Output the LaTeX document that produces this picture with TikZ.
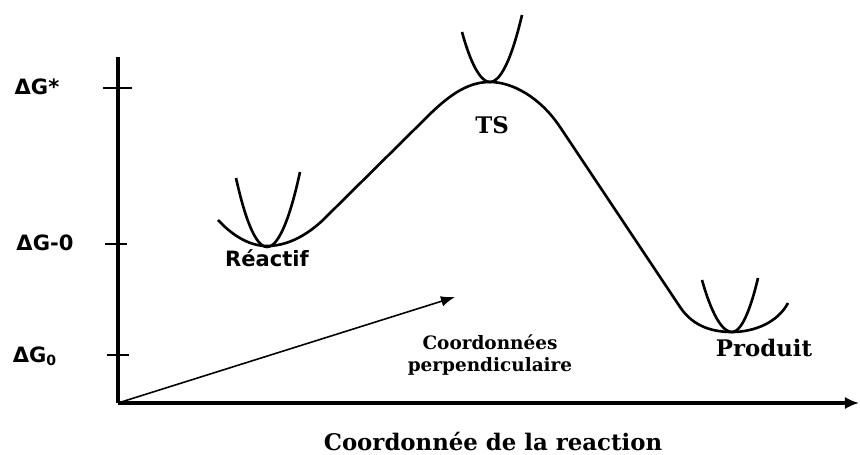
\documentclass[tikz,border=0pt]{standalone}
\usepackage{fontspec}
\newfontfamily\sanslabel{DejaVu Sans}
\newfontfamily\seriflabel{DejaVu Serif}
\usepackage{tikz}
\usetikzlibrary{arrows.meta}

\begin{document}
\begin{tikzpicture}[
x=0.02cm, y=0.02cm,
axis/.style={
line width=2pt
},
tick/.style={
line width=1.6pt
},
energy/.style={
line width=1.5pt,
line join=round
},
well/.style={
line width=1.5pt
},
levellabel/.style={
font=\sanslabel\bfseries\fontsize{12}{14}\selectfont
},
statelabel/.style={
font=\seriflabel\bfseries\fontsize{13}{15}\selectfont
},
smalllabel/.style={
align=center,
font=\seriflabel\bfseries\fontsize{10.5}{13}\selectfont
}
]

\useasboundingbox (0,0) rectangle (860,454);


% Axes

\coordinate (origin) at (118,51);
\coordinate (ytop) at (118,397);
\coordinate (xend) at (859,51);

\draw[axis] (ytop) -- (origin);
\draw[axis, -{Latex[length=8pt,width=7pt]}] (origin) -- (xend);


% Energy levels

\coordinate (tsA) at (103,366);
\coordinate (tsB) at (132,366);
\coordinate (reA) at (105,210);
\coordinate (reB) at (127,210);
\coordinate (prA) at (107,99);
\coordinate (prB) at (129,99);

\draw[tick] (tsA) -- (tsB);
\draw[tick] (reA) -- (reB);
\draw[tick] (prA) -- (prB);

\node (gts) [levellabel] at (37,367) {ΔG*};
\node (gre) [levellabel] at (45,211) {ΔG-0};
\node (gpr) [levellabel] at (35,98) {ΔG\textsubscript{0}};


% Reaction path

\draw[energy] (218,234) parabola bend (267,208) (323,234)
  -- (427,337)
  .. controls (452,362) and (470,372) .. (490,372)
  .. controls (512,372) and (540,357) .. (560,327)
  -- (680,147)
  .. controls (694,126) and (715,122) .. (732,122)
  .. controls (755,122) and (778,132) .. (788,151);


% Perpendicular wells

\draw[well] (236,276) parabola bend (267,207) (300,282);
\draw[well] (462,422) parabola bend (490,372) (522,439);
\draw[well] (702,174) parabola bend (732,122) (758,176);

\node (reactif) [levellabel] at (267,196) {Réactif};
\node (ts) [statelabel] at (492,329) {TS};
\node (produit) [statelabel] at (764,106) {Produit};


% Perpendicular coordinate

\coordinate (perp) at (455,157);

\draw[line width=0.9pt, -{Latex[length=8pt,width=6pt]}] (origin) -- (perp);

\node (perplabel) [smalllabel] at (490,99)
{Coordonnées\\perpendiculaire};

\node (xlabel) [statelabel] at (493,12)
{Coordonnée de la reaction};


\end{tikzpicture}
\end{document}
